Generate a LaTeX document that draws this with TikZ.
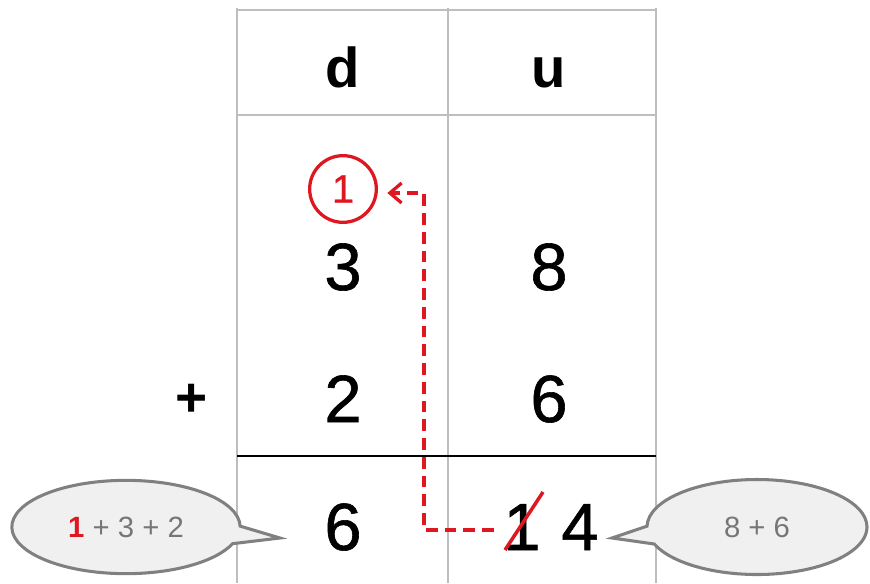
\documentclass[tikz,border=0pt]{standalone}
\usepackage{fontspec}
\setmainfont{Liberation Sans}
\newfontfamily\digitfont{Liberation Sans}[FakeBold=0.9]
\usetikzlibrary{arrows.meta, calc, shapes.callouts}
\definecolor{gridc}{RGB}{190,190,190}
\definecolor{carryc}{RGB}{222,24,32}
\definecolor{bubfill}{RGB}{240,240,240}
\definecolor{bubline}{RGB}{128,128,128}
\definecolor{bubtext}{RGB}{118,118,118}
\tikzset{
  grid/.style={draw=gridc, line width=1.5pt},
  sumline/.style={draw=black, line width=1.4pt},
  head/.style={anchor=base, inner sep=0pt, font=\fontsize{48}{48}\selectfont\bfseries},
  digit/.style={anchor=base, inner sep=0pt, font=\fontsize{57}{57}\selectfont\digitfont},
  sign/.style={anchor=center, inner sep=0pt, font=\fontsize{47}{47}\selectfont\bfseries},
  carry/.style={draw=carryc, line width=3.2pt, dash pattern=on 10pt off 6pt,
                -{Straight Barb[length=10pt, width=17pt, line width=2.8pt]}},
  carrybox/.style={circle, draw=carryc, line width=2.8pt, text=carryc,
                   minimum size=2cm, inner sep=0pt,
                   font=\fontsize{34}{34}\selectfont\digitfont},
  strike/.style={draw=carryc, line width=3pt},
  bubble/.style={ellipse callout, draw=bubline, fill=bubfill, line width=2.6pt,
                 callout pointer arc=22, text=bubtext, inner sep=0pt,
                 font=\fontsize{25}{25}\selectfont},
}

\begin{document}
\begin{tikzpicture}[x=0.03cm, y=-0.03cm]

  \useasboundingbox (0,0) rectangle (870,583);

  % table
  \draw[grid] (237,10) -- (656,10);
  \draw[grid] (237,115) -- (656,115);
  \foreach \x in {237,448,656} {
    \draw[grid] (\x,8) -- (\x,583);
  }
  \draw[sumline] (237,456) -- (656,456);

  \node[head] (hd) at (343,87) {d};
  \node[head] (hu) at (549,87) {u};

  \node[digit] (a3) at (343,290) {3};
  \node[digit] (a8) at (549,290) {8};
  \node[digit] (b2) at (343,422) {2};
  \node[digit] (b6) at (549,422) {6};
  \node[sign] (plus) at (192,400) {+};
  \node[digit] (r6) at (343,550) {6};
  \node[digit] (one) at (522,550) {1};
  \node[digit] (r4) at (580,550) {4};

  \node[carrybox] (circ) at (343,189) {1};

  % carry
  \draw[strike] (505,550) -- (543,492);
  \coordinate (turn) at (424,530);
  \draw[carry, shorten <=8pt, shorten >=8pt] (one.west |- turn) -- (turn) |- ($(circ.east)+(0,4)$);

  % bubbles
  \coordinate (ltip) at (280,538);
  \coordinate (rtip) at (612,538);
  \node[bubble, minimum width=6.85cm, minimum height=2.8cm,
        callout absolute pointer=(ltip)] (lsum) at (126,527)
    {\textcolor{carryc}{\bfseries 1} + 3 + 2};
  \node[bubble, minimum width=6.6cm, minimum height=2.85cm,
        callout absolute pointer=(rtip)] (rsum) at (757,527)
    {8 + 6};

\end{tikzpicture}
\end{document}
